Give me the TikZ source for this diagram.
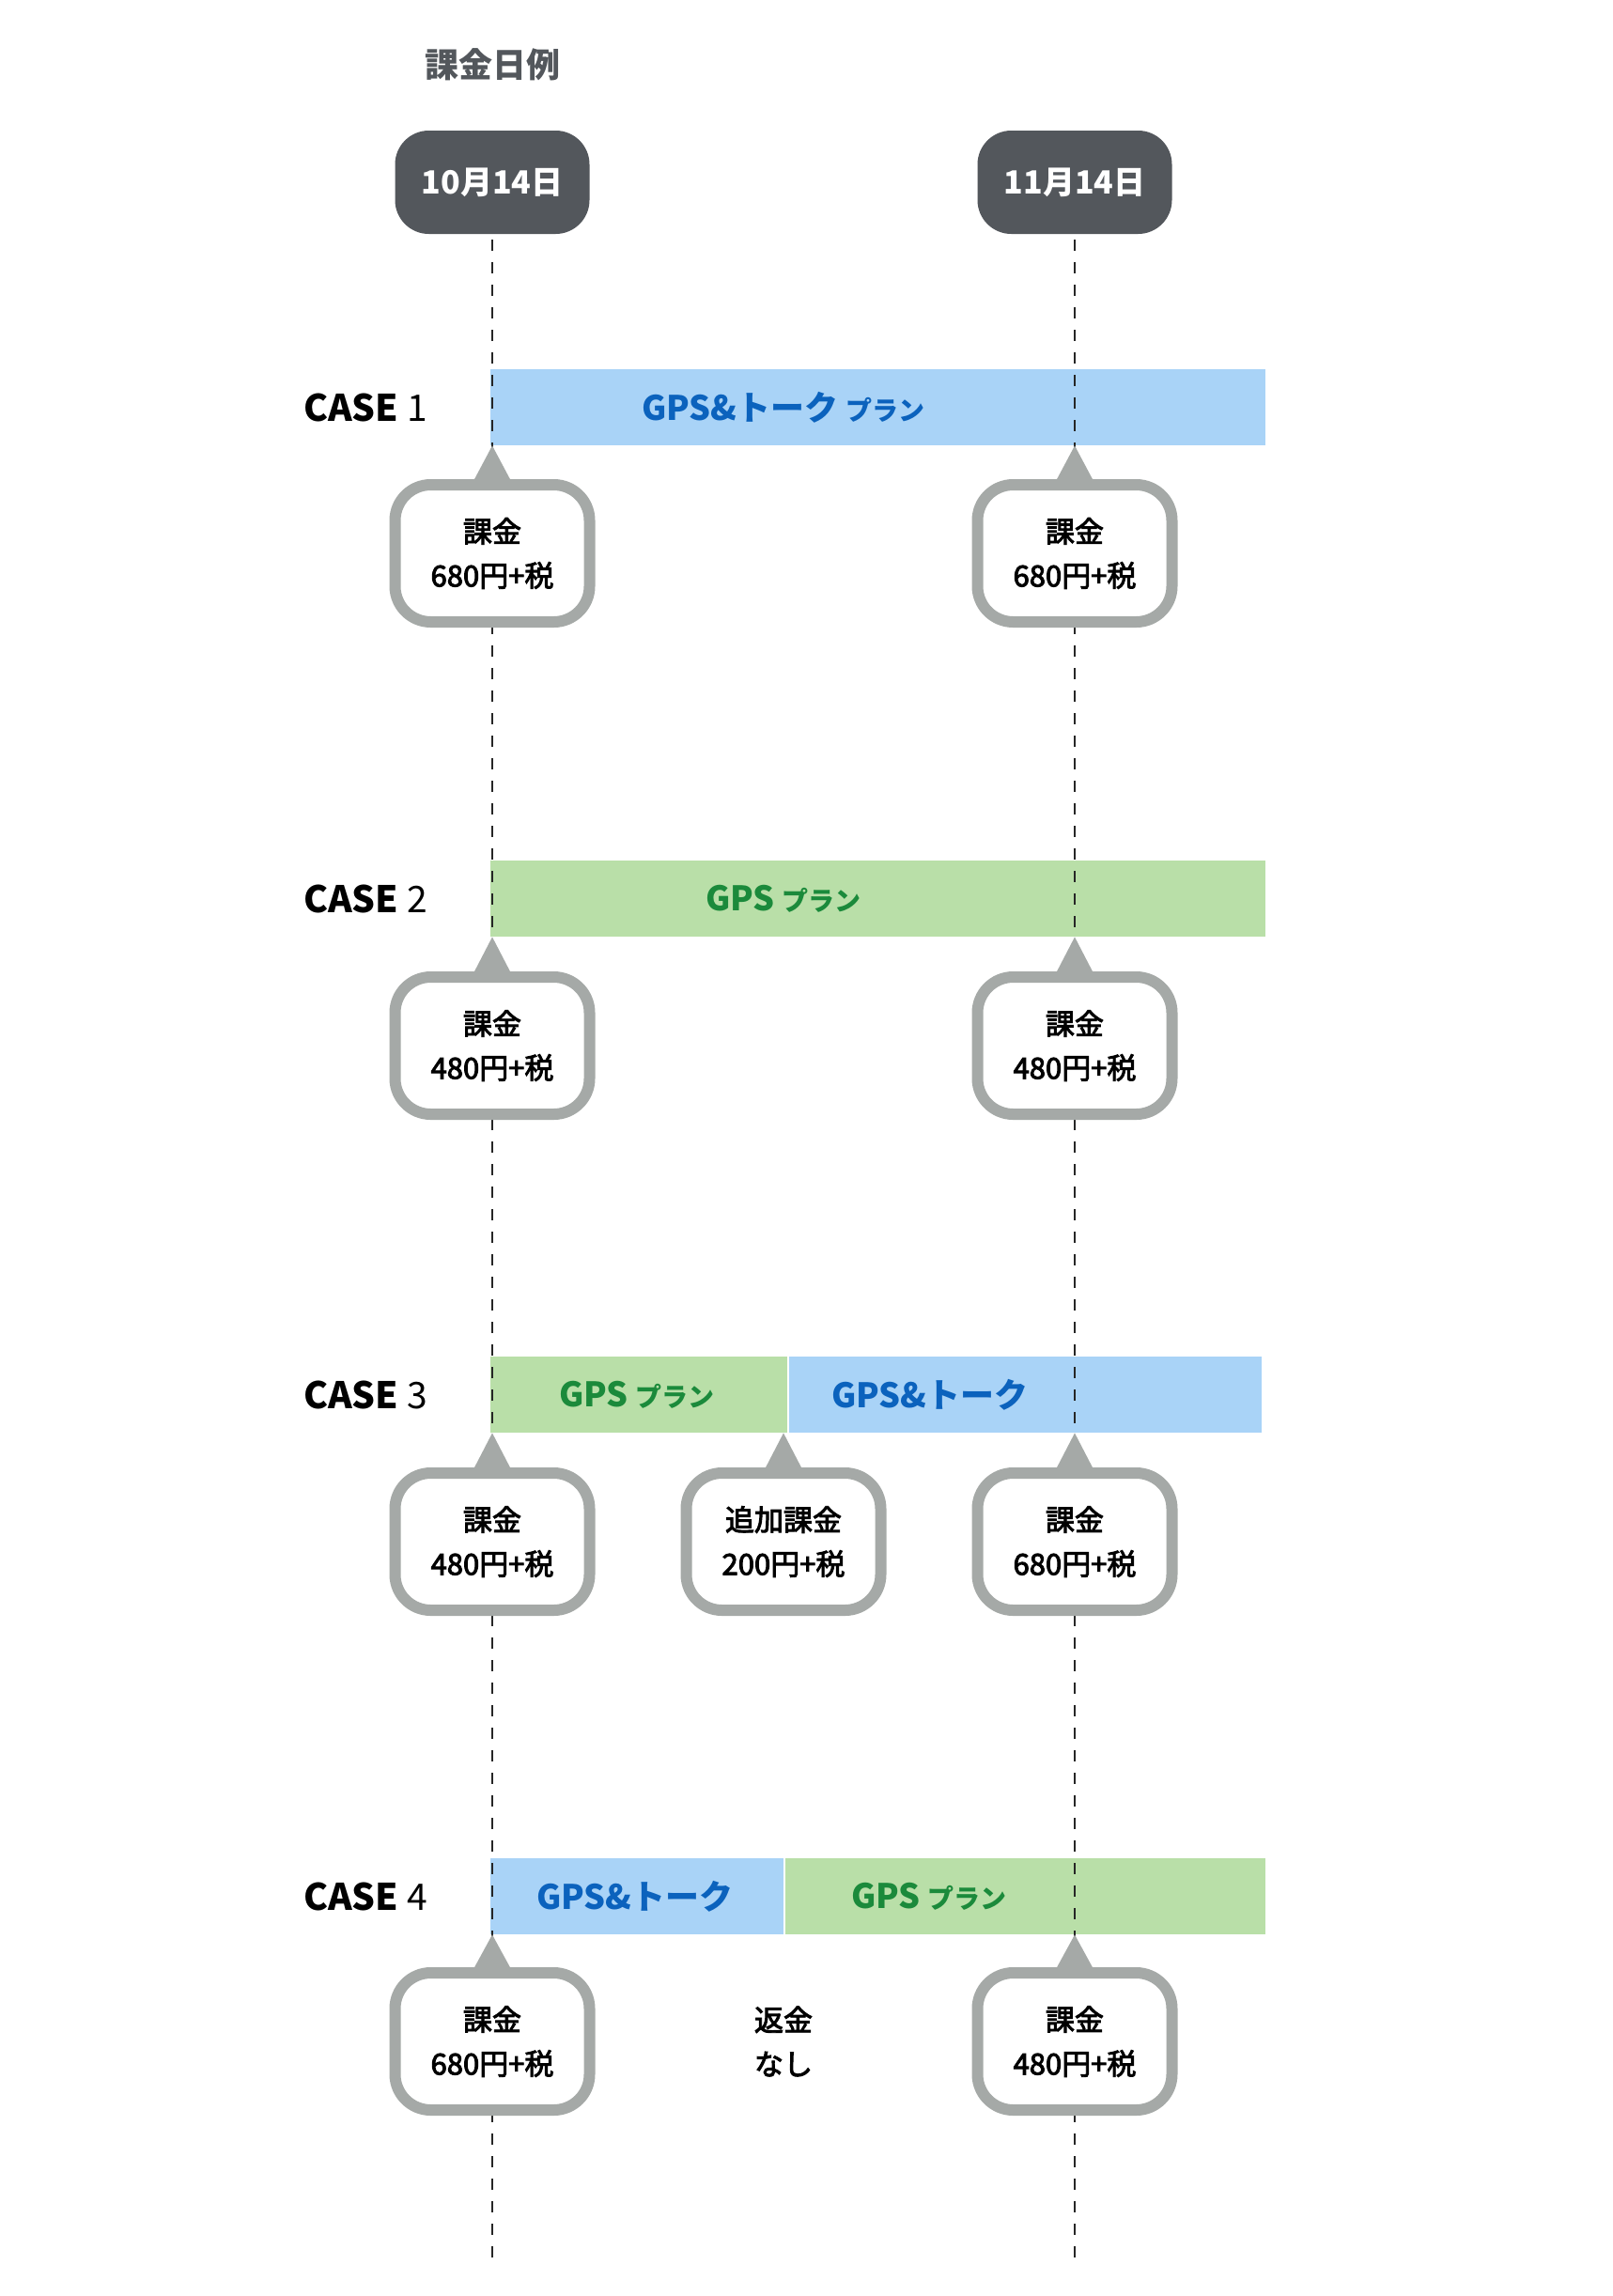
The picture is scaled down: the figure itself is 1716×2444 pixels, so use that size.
\documentclass[tikz,border=0pt]{standalone}
\usepackage{fontspec}
\setmainfont{Noto Sans CJK JP}
\newfontfamily\jpmid[FakeBold=3]{Noto Sans CJK JP}
\usetikzlibrary{positioning,calc}

\definecolor{darkbox}{HTML}{53575C}
\definecolor{calloutgray}{HTML}{A5A9A7}
\definecolor{talkfill}{HTML}{A9D3F7}
\definecolor{talktext}{HTML}{0B62BD}
\definecolor{gpsfill}{HTML}{B9DFA8}
\definecolor{gpstext}{HTML}{1B8A3B}

\newcommand{\smallplan}{{\fontsize{28}{30}\selectfont プラン}}

\tikzset{
  datebox/.style={fill=darkbox, text=white, rounded corners=36pt, minimum width=207pt,
    minimum height=110pt, inner sep=0pt, font=\fontsize{34}{40}\selectfont\bfseries},
  caselabel/.style={anchor=west, inner sep=0pt, font=\fontsize{39}{44}\selectfont},
  talkbar/.style={fill=talkfill, anchor=north west, minimum height=81pt, inner sep=0pt},
  gpsbar/.style={fill=gpsfill, anchor=north west, minimum height=81pt, inner sep=0pt},
  talklabel/.style={text=talktext, inner sep=0pt, font=\fontsize{36}{40}\selectfont\bfseries},
  gpslabel/.style={text=gpstext, inner sep=0pt, font=\fontsize{36}{40}\selectfont\bfseries},
  callout/.style={draw=calloutgray, line width=12pt, fill=white, rounded corners=38pt,
    minimum width=207pt, minimum height=146pt, inner sep=0pt, align=center,
    font=\fontsize{31}{47}\selectfont\jpmid},
  pointer/.style={fill=calloutgray},
  timeline/.style={draw=black!85, line width=2.2pt, dash pattern=on 12pt off 12pt},
}

\begin{document}
\begin{tikzpicture}[x=1pt,y=-1pt]
  \useasboundingbox[fill=white] (0,0) rectangle (1716,2444);

  % heading and dates
  \node[text=darkbox, font=\fontsize{36}{40}\selectfont\bfseries] (title) at (524,69) {課金日例};
  \node[datebox] (d1) at (524,194) {10月14日};
  \node[datebox] (d2) at (1144,194) {11月14日};
  \coordinate (e1) at (524,2403);
  \coordinate (e2) at (1144,2403);

  % plan bars
  \node[talkbar, minimum width=825pt] (b1) at (522,393) {};
  \node[gpsbar, minimum width=825pt] (b2) at (522,916) {};
  \node[gpsbar, minimum width=316pt] (b3a) at (522,1444) {};
  \node[talkbar, minimum width=503pt] (b3b) at (840,1444) {};
  \node[talkbar, minimum width=312pt] (b4a) at (522,1978) {};
  \node[gpsbar, minimum width=511pt] (b4b) at (836,1978) {};

  \node[caselabel] (c1) at ($(b1.west)+(-199,0)$) {\textbf{CASE} 1};
  \node[caselabel] (c2) at ($(b2.west)+(-199,0)$) {\textbf{CASE} 2};
  \node[caselabel] (c3) at ($(b3a.west)+(-199,0)$) {\textbf{CASE} 3};
  \node[caselabel] (c4) at ($(b4a.west)+(-199,0)$) {\textbf{CASE} 4};

  \node[talklabel] (t1) at (834,433.5) {GPS\&トーク \smallplan};
  \node[gpslabel] (t2) at (834,956.5) {GPS \smallplan};
  \node[gpslabel] (t3a) at (678,1484.5) {GPS \smallplan};
  \node[talklabel] (t3b) at (990,1484.5) {GPS\&トーク};
  \node[talklabel] (t4a) at (676,2018.5) {GPS\&トーク};
  \node[gpslabel] (t4b) at (989,2018.5) {GPS \smallplan};

  % timelines
  \draw[timeline] ($(d1.south)+(0,6)$) -- (e1);
  \draw[timeline] ($(d2.south)+(0,6)$) -- (e2);

  % charges
  \node[callout] (k11) at (524,589) {課金\\680円+税};
  \node[callout] (k12) at (1144,589) {課金\\680円+税};
  \node[callout] (k21) at (524,1113) {課金\\480円+税};
  \node[callout] (k22) at (1144,1113) {課金\\480円+税};
  \node[callout] (k31) at (524,1641) {課金\\480円+税};
  \node[callout] (k32) at (834,1641) {追加課金\\200円+税};
  \node[callout] (k33) at (1144,1641) {課金\\680円+税};
  \node[callout] (k41) at (524,2173) {課金\\680円+税};
  \node[font=\fontsize{31}{47}\selectfont\jpmid, align=center] (r4) at (834,2173) {返金\\なし};
  \node[callout] (k43) at (1144,2173) {課金\\480円+税};

  \foreach \k/\b in {k11/b1, k12/b1, k21/b2, k22/b2, k31/b3a, k32/b3a, k33/b3b, k41/b4a, k43/b4b}
    \fill[pointer] ($(\k.north)+(-20,2)$) -- (\k.north |- \b.south) -- ($(\k.north)+(20,2)$) -- cycle;
\end{tikzpicture}
\end{document}
